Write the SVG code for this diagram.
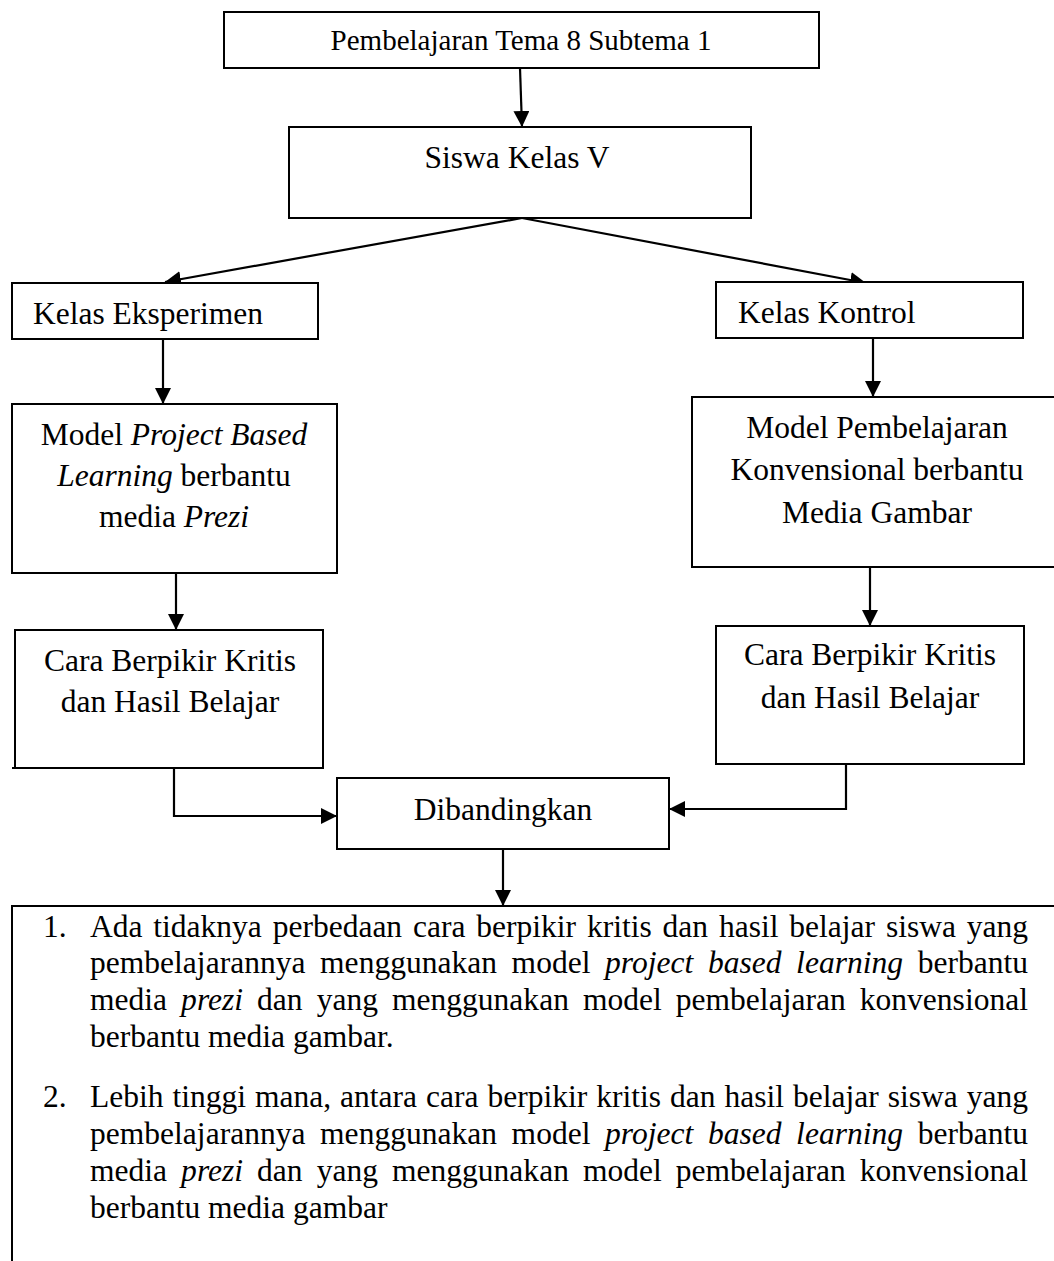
<svg xmlns="http://www.w3.org/2000/svg" width="1054" height="1261" viewBox="0 0 1054 1261">
<style>
  .box { fill: #fff; stroke: #000; stroke-width: 2; }
  .t { font-family: "Liberation Serif", "Times New Roman", serif; font-size: 31.5px; fill: #000; }
  .c { text-anchor: middle; }
  .i { font-style: italic; }
  .conn { fill: none; stroke: #000; stroke-width: 2.2; }
</style>
<defs>
  <marker id="ah" viewBox="0 0 16 16" refX="16" refY="8" markerWidth="16" markerHeight="16" markerUnits="userSpaceOnUse" orient="auto">
    <path d="M0,0 L16,8 L0,16 z" fill="#000"/>
  </marker>
</defs>
<rect width="1054" height="1261" fill="#fff"/>

<g id="connectors">
  <line class="conn" x1="520" y1="68" x2="522" y2="127" marker-end="url(#ah)"/>
  <line class="conn" x1="522" y1="218" x2="165" y2="282" marker-end="url(#ah)"/>
  <line class="conn" x1="522" y1="218" x2="866" y2="283" marker-end="url(#ah)"/>
  <line class="conn" x1="163" y1="339" x2="163" y2="404" marker-end="url(#ah)"/>
  <line class="conn" x1="873" y1="338" x2="873" y2="397" marker-end="url(#ah)"/>
  <line class="conn" x1="176" y1="573" x2="176" y2="630" marker-end="url(#ah)"/>
  <line class="conn" x1="870" y1="567" x2="870" y2="626" marker-end="url(#ah)"/>
  <polyline class="conn" points="174,768 174,816 337,816" marker-end="url(#ah)"/>
  <polyline class="conn" points="846,764 846,809 669,809" marker-end="url(#ah)"/>
  <line class="conn" x1="503" y1="849" x2="503" y2="906" marker-end="url(#ah)"/>
</g>

<g id="n-tema">
  <rect class="box" x="224" y="12" width="595" height="56"/>
  <text class="t c" x="521" y="50" style="font-size:29px">Pembelajaran Tema 8 Subtema 1</text>
</g>

<g id="n-siswa">
  <rect class="box" x="289" y="127" width="462" height="91"/>
  <text class="t c" x="517" y="168">Siswa Kelas V</text>
</g>

<g id="n-eksperimen">
  <rect class="box" x="12" y="283" width="306" height="56"/>
  <text class="t" x="33" y="324">Kelas Eksperimen</text>
</g>

<g id="n-kontrol">
  <rect class="box" x="716" y="282" width="307" height="56"/>
  <text class="t" x="738" y="323">Kelas Kontrol</text>
</g>

<g id="n-pjbl">
  <rect class="box" x="12" y="404" width="325" height="169"/>
  <text class="t c" x="174" y="445">Model <tspan class="i">Project Based</tspan></text>
  <text class="t c" x="174" y="486"><tspan class="i">Learning</tspan> berbantu</text>
  <text class="t c" x="174" y="527">media <tspan class="i">Prezi</tspan></text>
</g>

<g id="n-konv">
  <rect class="box" x="692" y="397" width="372" height="170"/>
  <text class="t c" x="877" y="438">Model Pembelajaran</text>
  <text class="t c" x="877" y="480">Konvensional berbantu</text>
  <text class="t c" x="877" y="523">Media Gambar</text>
</g>

<g id="n-hasil-eks">
  <rect class="box" x="15" y="630" width="308" height="138"/>
  <line x1="12" y1="768" x2="18" y2="768" stroke="#000" stroke-width="2"/>
  <text class="t c" x="170" y="671">Cara Berpikir Kritis</text>
  <text class="t c" x="170" y="712">dan Hasil Belajar</text>
</g>

<g id="n-hasil-kon">
  <rect class="box" x="716" y="626" width="308" height="138"/>
  <text class="t c" x="870" y="665">Cara Berpikir Kritis</text>
  <text class="t c" x="870" y="708">dan Hasil Belajar</text>
</g>

<g id="n-banding">
  <rect class="box" x="337" y="778" width="332" height="71"/>
  <text class="t c" x="503" y="820">Dibandingkan</text>
</g>

<g id="n-kesimpulan">
  <path d="M1060 906 H12 V1265" fill="none" stroke="#000" stroke-width="2"/>
  <text class="t" x="43" y="937">1.</text>
  <text class="t" x="90" y="937" word-spacing="3" textLength="938" lengthAdjust="spacing">Ada tidaknya perbedaan cara berpikir kritis dan hasil belajar siswa yang</text>
  <text class="t" x="90" y="973" word-spacing="6.7" textLength="938" lengthAdjust="spacing">pembelajarannya menggunakan model <tspan class="i">project based learning</tspan> berbantu</text>
  <text class="t" x="90" y="1010" word-spacing="6.1" textLength="938" lengthAdjust="spacing">media <tspan class="i">prezi</tspan> dan yang menggunakan model pembelajaran konvensional</text>
  <text class="t" x="90" y="1047">berbantu media gambar.</text>
  <text class="t" x="43" y="1107">2.</text>
  <text class="t" x="90" y="1107" word-spacing="1.1" textLength="938" lengthAdjust="spacing">Lebih tinggi mana, antara cara berpikir kritis dan hasil belajar siswa yang</text>
  <text class="t" x="90" y="1144" word-spacing="6.7" textLength="938" lengthAdjust="spacing">pembelajarannya menggunakan model <tspan class="i">project based learning</tspan> berbantu</text>
  <text class="t" x="90" y="1181" word-spacing="6.1" textLength="938" lengthAdjust="spacing">media <tspan class="i">prezi</tspan> dan yang menggunakan model pembelajaran konvensional</text>
  <text class="t" x="90" y="1218">berbantu media gambar</text>
</g>
</svg>
